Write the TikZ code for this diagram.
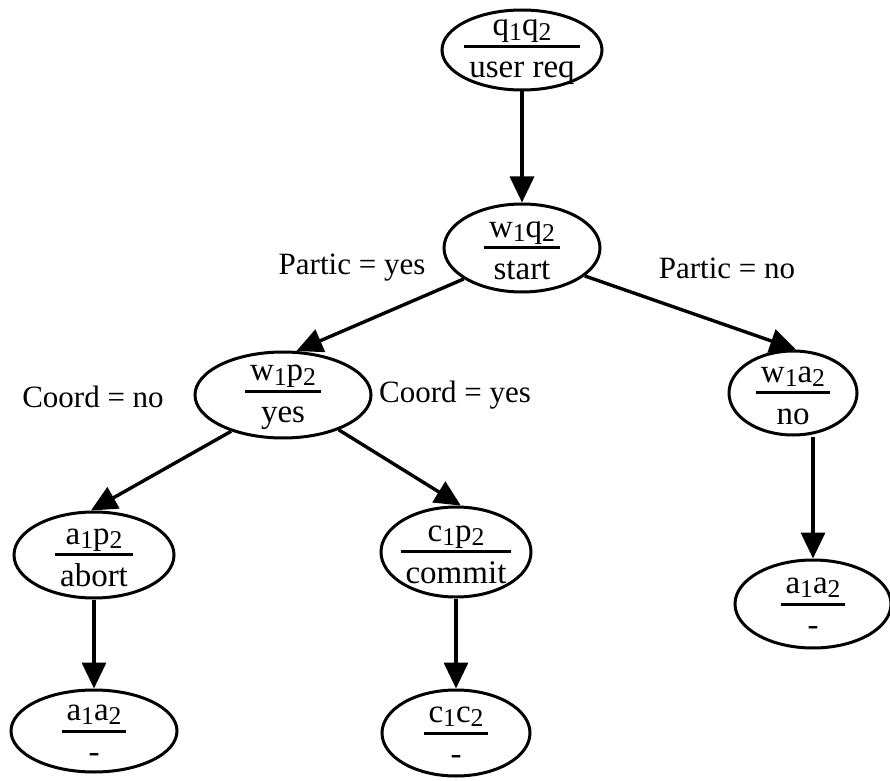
\documentclass[tikz,border=0pt]{standalone}
\usepackage{fontspec}
\setmainfont{Liberation Serif}
\usetikzlibrary{shapes.geometric,arrows.meta}
% state text: upper pair over a rule over the action
\newcommand\frc[2]{{\setlength\arrayrulewidth{1.5pt}\renewcommand\arraystretch{0}%
  \begin{tabular}{@{\hspace{2.5pt}}c@{\hspace{2.5pt}}}%
  \rule[-4.5pt]{0pt}{13pt}#1\\\hline\rule{0pt}{15pt}#2\end{tabular}}}
% large, low subscript digits
\newcommand\sbs[1]{\smash{\raisebox{-0.28ex}{\fontsize{12.8}{13}\selectfont #1}}}
\begin{document}
\begin{tikzpicture}[x=0.5pt,y=-0.5pt,
  state/.style={ellipse,draw,line width=1.5pt,inner sep=0pt},
  stxt/.style={font=\fontsize{16.5}{18}\selectfont,inner sep=0pt,yshift=-1pt},
  arr/.style={line width=1.7pt,-{Triangle[length=13pt,width=12pt]}},
  lbl/.style={font=\fontsize{15.5}{17}\selectfont}]
\useasboundingbox (0,0) rectangle (890,781);
\tikzset{every label/.style={stxt}}

% states
\node[state,minimum width=160pt/2,minimum height=80pt/2,
  label=center:{\frc{q\sbs{1}q\sbs{2}}{user req}}] (n1) at (522,50) {};
\node[state,minimum width=156pt/2,minimum height=88pt/2,
  label=center:{\frc{w\sbs{1}q\sbs{2}}{start}}] (n2) at (522,248) {};
\node[state,minimum width=176pt/2,minimum height=86pt/2,
  label=center:{\frc{w\sbs{1}p\sbs{2}}{yes}}] (n3) at (283,395) {};
\node[state,minimum width=128pt/2,minimum height=84pt/2,
  label=center:{\frc{w\sbs{1}a\sbs{2}}{no}}] (n4) at (793,393) {};
\node[state,minimum width=160pt/2,minimum height=86pt/2,
  label=center:{\frc{a\sbs{1}p\sbs{2}}{abort}}] (n5) at (94,555) {};
\node[state,minimum width=150pt/2,minimum height=90pt/2,
  label=center:{\frc{c\sbs{1}p\sbs{2}}{commit}}] (n6) at (456,552) {};
\node[state,minimum width=156pt/2,minimum height=88pt/2,
  label=center:{\frc{a\sbs{1}a\sbs{2}}{-}}] (n7) at (813,604) {};
\node[state,minimum width=166pt/2,minimum height=82pt/2,
  label=center:{\frc{a\sbs{1}a\sbs{2}}{-}}] (n8) at (94,731) {};
\node[state,minimum width=148pt/2,minimum height=86pt/2,
  label=center:{\frc{c\sbs{1}c\sbs{2}}{-}}] (n9) at (456,733) {};

% transitions
\draw[arr] (n1) -- (n2);
\draw[arr] (n2.208) -- (n3.73);
\draw[arr] (n2.336) -- (n4.86);
\draw[arr] (n3.215) -- (n5.94);
\draw[arr] (n3.328) -- (n6.84);
\draw[arr] (n5) -- (n8);
\draw[arr] (n6) -- (n9);
\draw[arr] (n4.south -| n7.north) -- (n7.north);

% conditions
\node[lbl] (pyes) at (352,268) {Partic = yes};
\node[lbl] (pno) at (727,268) {Partic = no};
\node[lbl] (cno) at (93,397) {Coord = no};
\node[lbl] (cyes) at (455,395) {Coord = yes};
\end{tikzpicture}
\end{document}
